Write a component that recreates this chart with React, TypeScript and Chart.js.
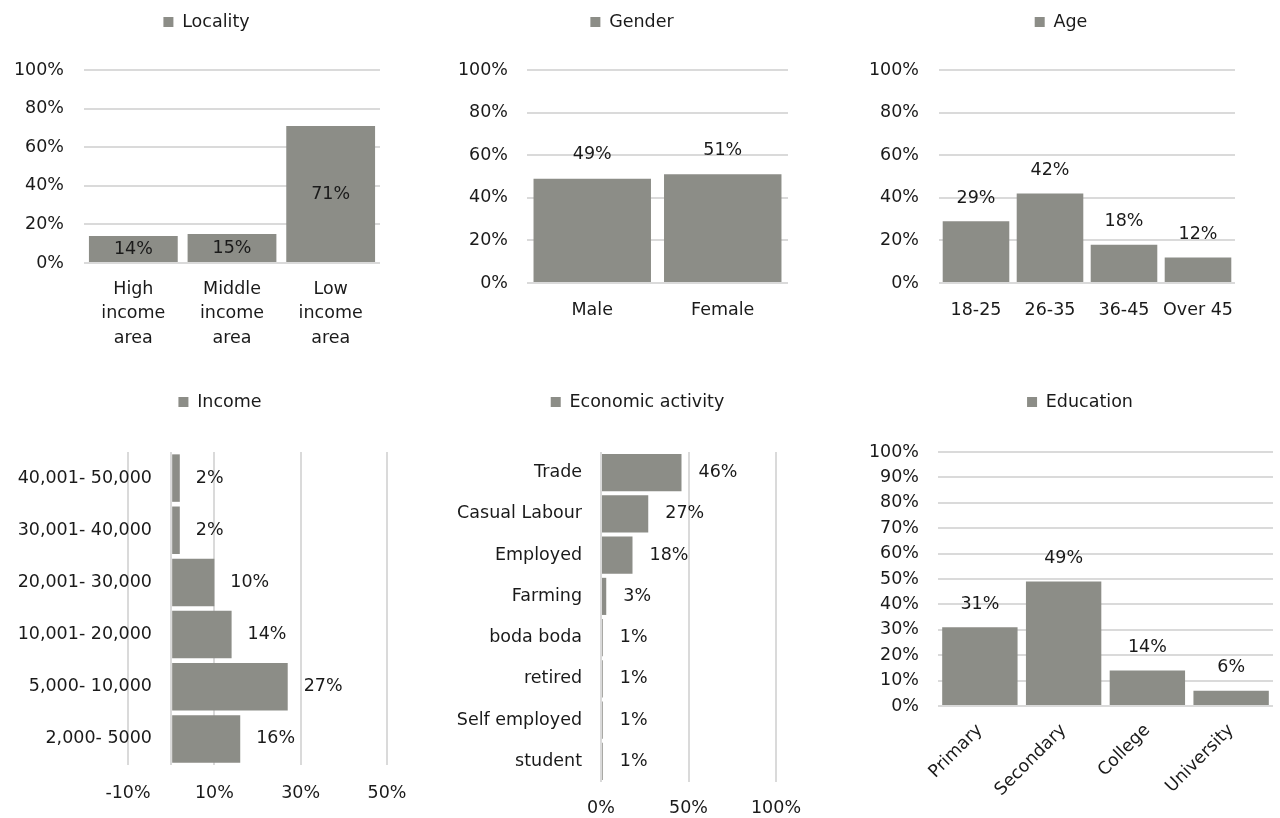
import React, { useEffect, useRef } from "react";
import { Chart, registerables } from "chart.js";

Chart.register(...registerables);

// ---------- data ----------
const localityCategories = [["High", "income", "area"], ["Middle", "income", "area"], ["Low", "income", "area"]];
const localityValues = [14, 15, 71];

const genderCategories = ["Male", "Female"];
const genderValues = [49, 51];

const ageCategories = ["18-25", "26-35", "36-45", "Over 45"];
const ageValues = [29, 42, 18, 12];

const incomeCategories = ["40,001- 50,000", "30,001- 40,000", "20,001- 30,000", "10,001- 20,000", "5,000- 10,000", "2,000- 5000"];
const incomeValues = [2, 2, 10, 14, 27, 16];
const incomeTicks = [-10, 0, 10, 30, 50];

const activityCategories = ["Trade", "Casual Labour", "Employed", "Farming", "boda boda", "retired", "Self employed", "student"];
const activityValues = [46, 27, 18, 3, 1, 1, 1, 1];

const educationCategories = ["Primary", "Secondary", "College", "University"];
const educationValues = [31, 49, 14, 6];

// ---------- style ----------
const FONT = "'DejaVu Sans', sans-serif";
const FS = 17.5;
const TEXT = "#1a1a1a";
const BAR = "#8c8d87";
const GRID = "#dadada";
const LEGEND_PAD = 10;

type Spec = {
  title: string;
  labels: any[];
  values: number[];
  horizontal: boolean;
  min: number;
  max: number;
  step: number;
  tickValues?: number[];
  blankZero?: boolean;
  mode: "center" | "top" | "right";
  offset: number;
  canvas: { x: number; y: number; w: number; h: number };
  area: { l: number; r: number; t: number; b: number };
  legendCx: number;
  legendCy: number;
  valPad: number;
  catPad: number;
  catLineHeight?: number;
  rotate?: number;
  barPct?: number;
};

const specs: Spec[] = [
  {
    title: "Locality", labels: localityCategories, values: localityValues, horizontal: false,
    min: 0, max: 100, step: 20, mode: "center", offset: 0,
    canvas: { x: 0, y: 0, w: 427, h: 375 }, area: { l: 84, r: 380, t: 70, b: 263 },
    legendCx: 206.5, legendCy: 22, valPad: 20, catPad: 13.75, catLineHeight: 1.4,
  },
  {
    title: "Gender", labels: genderCategories, values: genderValues, horizontal: false,
    min: 0, max: 100, step: 20, mode: "top", offset: 24,
    canvas: { x: 427, y: 0, w: 427, h: 375 }, area: { l: 527, r: 788, t: 70, b: 283 },
    legendCx: 632, legendCy: 22, valPad: 19, catPad: 16.5,
  },
  {
    title: "Age", labels: ageCategories, values: ageValues, horizontal: false,
    min: 0, max: 100, step: 20, mode: "top", offset: 23,
    canvas: { x: 854, y: 0, w: 426, h: 375 }, area: { l: 939, r: 1235, t: 70, b: 283 },
    legendCx: 1061, legendCy: 22, valPad: 20, catPad: 16.5,
  },
  {
    title: "Income", labels: incomeCategories, values: incomeValues, horizontal: true,
    min: -10, max: 50, step: 20, tickValues: incomeTicks, blankZero: true, mode: "right", offset: 16,
    canvas: { x: 0, y: 380, w: 427, h: 438 }, area: { l: 128, r: 387, t: 452, b: 765 },
    legendCx: 220, legendCy: 402, valPad: 17.5, catPad: -24, barPct: 0.91,
  },
  {
    title: "Economic activity", labels: activityCategories, values: activityValues, horizontal: true,
    min: 0, max: 100, step: 50, mode: "right", offset: 17,
    canvas: { x: 427, y: 380, w: 427, h: 438 }, area: { l: 601, r: 776, t: 452, b: 782 },
    legendCx: 637.5, legendCy: 402, valPad: 15.5, catPad: 19,
  },
  {
    title: "Education", labels: educationCategories, values: educationValues, horizontal: false,
    min: 0, max: 100, step: 10, mode: "top", offset: 23,
    canvas: { x: 854, y: 380, w: 426, h: 438 }, area: { l: 938, r: 1273, t: 452, b: 706 },
    legendCx: 1080, legendCy: 402, valPad: 19, catPad: 14, rotate: 45,
  },
];

function legendGapPlugin(extra: number) {
  return {
    id: "legendGap",
    beforeLayout(chart: any) {
      const legend = chart.legend;
      if (legend && !legend.__gapPatched) {
        const orig = legend.fit;
        legend.fit = function () {
          orig.call(this);
          this.height += extra;
        };
        legend.__gapPatched = true;
      }
    },
  };
}

function valueLabelPlugin(mode: string, offset: number) {
  return {
    id: "valueLabels",
    afterDatasetsDraw(chart: any) {
      const ctx = chart.ctx;
      const meta = chart.getDatasetMeta(0);
      const data = chart.data.datasets[0].data;
      ctx.save();
      ctx.font = `${FS}px ${FONT}`;
      ctx.fillStyle = TEXT;
      meta.data.forEach((el: any, i: number) => {
        const p = el.getProps(["x", "y", "base"], true);
        const text = `${data[i]}%`;
        ctx.textBaseline = "middle";
        if (mode === "center") {
          ctx.textAlign = "center";
          ctx.fillText(text, p.x, (p.y + p.base) / 2);
        } else if (mode === "top") {
          ctx.textAlign = "center";
          ctx.fillText(text, p.x, p.y - offset);
        } else {
          ctx.textAlign = "left";
          ctx.fillText(text, p.x + offset, p.y);
        }
      });
      ctx.restore();
    },
  };
}

function buildConfig(s: Spec): any {
  const cx = s.canvas.x;
  const cy = s.canvas.y;
  const pl = 2 * s.legendCx - cx - s.area.r;
  const pr = cx + s.canvas.w - s.area.r;
  const pt = s.legendCy - cy - (LEGEND_PAD + FS / 2);
  const legendH = 2 * LEGEND_PAD + FS;
  const extra = s.area.t - cy - pt - legendH;
  const leftW = s.area.l - cx - pl;
  const bottomH = cy + s.canvas.h - s.area.b;

  const valueScale: any = {
    type: "linear",
    min: s.min,
    max: s.max,
    ticks: {
      stepSize: s.step,
      autoSkip: false,
      color: TEXT,
      font: { family: FONT, size: FS },
      padding: s.valPad,
      callback: (v: number) => (s.blankZero && v === 0 ? "" : `${v}%`),
    },
    grid: { color: GRID, lineWidth: 2, drawTicks: false },
    border: { display: false },
  };
  if (s.tickValues) {
    valueScale.afterBuildTicks = (scale: any) => {
      scale.ticks = s.tickValues!.map((v) => ({ value: v }));
    };
  }
  const catScale: any = {
    type: "category",
    ticks: {
      autoSkip: false,
      color: TEXT,
      font: { family: FONT, size: FS, lineHeight: s.catLineHeight ?? 1.2 },
      padding: s.catPad,
      maxRotation: s.rotate ?? 0,
      minRotation: s.rotate ?? 0,
    },
    grid: { display: false, drawTicks: false },
    border: { display: false },
  };

  const xScale = s.horizontal ? valueScale : catScale;
  const yScale = s.horizontal ? catScale : valueScale;
  xScale.afterFit = (scale: any) => {
    scale.height = bottomH;
  };
  yScale.afterFit = (scale: any) => {
    scale.width = leftW;
    // let the tick labels extend past the axis box (they sit in the layout padding)
    scale._computeLabelArea = () => undefined;
  };

  return {
    type: "bar",
    data: {
      labels: s.labels,
      datasets: [
        {
          label: s.title,
          data: s.values,
          backgroundColor: BAR,
          borderWidth: 0,
          barPercentage: s.barPct ?? 0.9,
          categoryPercentage: 1.0,
        },
      ],
    },
    options: {
      responsive: false,
      animation: false,
      indexAxis: s.horizontal ? "y" : "x",
      layout: { padding: { left: pl, right: pr, top: pt, bottom: 0 } },
      plugins: {
        legend: {
          display: true,
          position: "top",
          labels: {
            boxWidth: 10,
            boxHeight: 10,
            padding: LEGEND_PAD,
            color: TEXT,
            font: { family: FONT, size: FS },
          },
        },
        tooltip: { enabled: false },
      },
      scales: { x: xScale, y: yScale },
    },
    plugins: [legendGapPlugin(extra), valueLabelPlugin(s.mode, s.offset)],
  };
}

function ChartBox({ spec }: { spec: Spec }) {
  const ref = useRef<HTMLCanvasElement | null>(null);
  useEffect(() => {
    if (!ref.current) return;
    const chart = new Chart(ref.current, buildConfig(spec));
    return () => chart.destroy();
  }, [spec]);
  return (
    <canvas
      ref={ref}
      width={spec.canvas.w}
      height={spec.canvas.h}
      style={{
        position: "absolute",
        left: spec.canvas.x,
        top: spec.canvas.y,
        width: spec.canvas.w,
        height: spec.canvas.h,
      }}
    />
  );
}

export default function App() {
  return (
    <div
      style={{
        position: "fixed",
        left: 0,
        top: 0,
        width: 1280,
        height: 818,
        background: "#ffffff",
        overflow: "hidden",
      }}
    >
      {specs.map((s) => (
        <ChartBox key={s.title} spec={s} />
      ))}
    </div>
  );
}
